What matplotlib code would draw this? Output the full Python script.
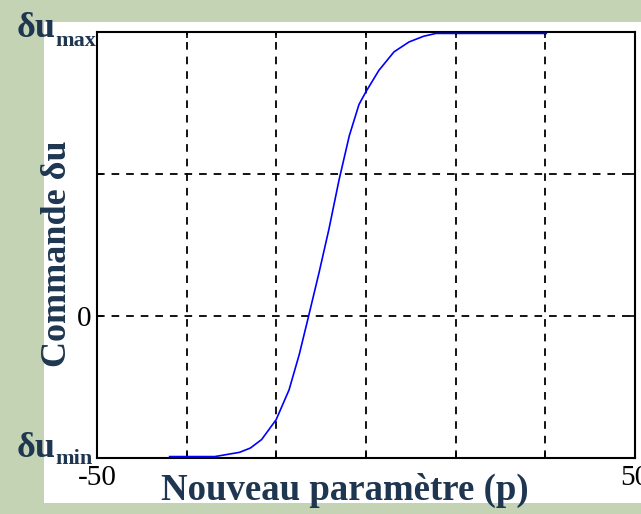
import numpy as np
import matplotlib
matplotlib.use("Agg")
from matplotlib import pyplot as plt
from matplotlib.patches import Rectangle

# curve (x in p units, y: -1 = du_min, 0, 2 = du_max)
p_vals = [-36.5, -28.1, -23.5, -21.5, -19.4, -16.7, -14.3, -12.4, -10.6, -8.7,
          -6.9, -5.0, -3.1, -1.3, 0.0, 2.4, 5.2, 8.0, 10.7, 13.0, 33.5]
du_vals = [-0.99, -0.99, -0.96, -0.93, -0.87, -0.73, -0.52, -0.27, 0.01, 0.31,
           0.61, 0.96, 1.27, 1.49, 1.58, 1.73, 1.86, 1.93, 1.97, 1.99, 1.99]

x_ticks = np.linspace(-50, 50, 7)
x_labels = ["-50", "", "", "", "", "", "50"]
y_ticks = [-1, 0, 1, 2]
y_labels = ["", "0", "", ""]

navy = "#1e3650"
bg = "#c5d3b5"

plt.rcParams["lines.scale_dashes"] = False

fig = plt.figure(figsize=(6.41, 5.14), dpi=100, facecolor=bg)
fig.patches.append(Rectangle((44/641, 1-503/514), 1, (503-22)/514,
                             transform=fig.transFigure, facecolor="white",
                             edgecolor="none", zorder=-10))

ax = fig.add_axes([97/641, 1-458/514, 538/641, 426/514])
ax.plot(p_vals, du_vals, color="#0000ff", lw=1.2, zorder=3)
ax.set_xlim(-50, 50)
ax.set_ylim(-1, 2)
ax.set_xticks(x_ticks)
ax.set_xticklabels(x_labels, family="Liberation Serif", fontsize=21)
ax.set_yticks(y_ticks)
ax.set_yticklabels(y_labels, family="Liberation Serif", fontsize=21)
ax.tick_params(direction="in", length=4, width=1.2, pad=4,
               top=True, right=True)
ax.tick_params(axis="x", pad=5)
ax.grid(True, color="black", linestyle=(0, (5.5, 5)), lw=1.3)
for s in ax.spines.values():
    s.set_linewidth(1.5)

# the presentation labels on top of the plot
tf = dict(family="Liberation Serif", weight="bold", color=navy)
fig.text(17/641, 1-37/514, "δu", fontsize=26, **tf)
fig.text(55/641, 1-46/514, "max", fontsize=16, **tf)
fig.text(17/641, 1-457/514, "δu", fontsize=26, **tf)
fig.text(55/641, 1-464/514, "min", fontsize=16, **tf)
fig.text(66/641, 1-254/514, "Commande δu", fontsize=26, rotation=90,
         ha="center", va="baseline", rotation_mode="anchor", **tf)
fig.text(345/641, 1-500/514, "Nouveau paramètre (p)", fontsize=26.5,
         ha="center", va="baseline", **tf)

fig.savefig("out.png", dpi=100, facecolor=bg)
